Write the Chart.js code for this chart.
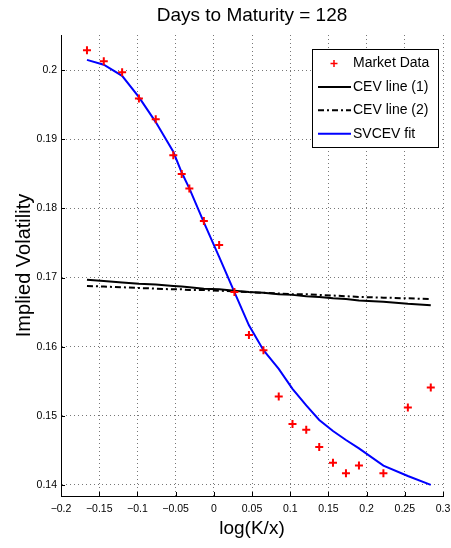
<!DOCTYPE html>
<html>
<head>
<meta charset="utf-8">
<title>Days to Maturity = 128</title>
<script src="https://cdn.jsdelivr.net/npm/chart.js@4.4.1/dist/chart.umd.min.js"></script>
<style>
    html, body { margin: 0; padding: 0; background: #fff; }
    #wrapper { width: 451px; height: 548px; }
</style>
</head>
<body>
<div id="wrapper"><canvas id="canvas1" width="451" height="548"></canvas></div>
<script>
"use strict"

// dati
const logKx = [-0.166, -0.144, -0.120, -0.098, -0.076, -0.053, -0.042, -0.032, -0.013, 0.007, 0.027, 0.046,
    0.065, 0.085, 0.103, 0.121, 0.138, 0.156, 0.173, 0.190, 0.222, 0.254, 0.284];
const marketVol = [0.2029, 0.2013, 0.1997, 0.1959, 0.1929, 0.1877, 0.1850, 0.1829, 0.1782, 0.1747, 0.1679, 0.1617,
    0.1595, 0.1528, 0.1488, 0.1480, 0.1455, 0.1432, 0.1417, 0.1428, 0.1417, 0.1512, 0.1541];
const cevLine1 = [0.1697, 0.1695, 0.1693, 0.1691, 0.1690, 0.1688, 0.1687, 0.1686, 0.1684, 0.1683, 0.1681, 0.1679,
    0.1678, 0.1676, 0.1675, 0.1673, 0.1672, 0.1670, 0.1669, 0.1667, 0.1665, 0.1662, 0.1660];
const cevLine2 = [0.1688, 0.1687, 0.1686, 0.1685, 0.1684, 0.1683, 0.1683, 0.1682, 0.1682, 0.1681, 0.1680, 0.1679,
    0.1678, 0.1677, 0.1676, 0.1676, 0.1675, 0.1674, 0.1673, 0.1672, 0.1671, 0.1670, 0.1669];
const svcevFit = [0.2015, 0.2008, 0.1992, 0.1961, 0.1925, 0.1882, 0.1852, 0.1829, 0.1780, 0.1730, 0.1679, 0.1631,
    0.1595, 0.1568, 0.1539, 0.1515, 0.1494, 0.1478, 0.1465, 0.1453, 0.1428, 0.1413, 0.1400];

const seriesLabels = ["Market Data", "CEV line (1)", "CEV line (2)", "SVCEV fit"];

const xTicks = [-0.2, -0.15, -0.1, -0.05, 0, 0.05, 0.1, 0.15, 0.2, 0.25, 0.3];
const xTickLabels = ["\u22120.2", "\u22120.15", "\u22120.1", "\u22120.05", "0", "0.05", "0.1", "0.15", "0.2", "0.25", "0.3"];
const yTicks = [0.14, 0.15, 0.16, 0.17, 0.18, 0.19, 0.2];
const yTickLabels = ["0.14", "0.15", "0.16", "0.17", "0.18", "0.19", "0.2"];

const FONT = "'Liberation Sans', Arial, Helvetica, sans-serif";

function punti(ys) {
    return logKx.map((x, i) => ({ x: x, y: ys[i] }));
}

// tacche verso l'interno, come in MATLAB
const tacchePlugin = {
    id: "tacche",
    afterDraw(chart) {
        let ctx = chart.ctx;
        let area = chart.chartArea;
        let sx = chart.scales.x;
        let sy = chart.scales.y;
        ctx.save();
        ctx.strokeStyle = "#000";
        ctx.lineWidth = 1;
        ctx.beginPath();
        xTicks.forEach(v => {
            let px = Math.round(sx.getPixelForValue(v)) + 0.5;
            ctx.moveTo(px, area.bottom);
            ctx.lineTo(px, area.bottom - 4);
        });
        yTicks.forEach(v => {
            let py = Math.round(sy.getPixelForValue(v)) + 0.5;
            ctx.moveTo(area.left, py);
            ctx.lineTo(area.left + 4, py);
        });
        ctx.stroke();
        ctx.restore();
    }
};

// legenda disegnata dentro il grafico, in alto a destra
const legendaPlugin = {
    id: "legenda",
    afterDraw(chart) {
        let ctx = chart.ctx;
        let box = { x: 312.5, y: 49.5, w: 126, h: 98 };
        ctx.save();
        ctx.fillStyle = "#fff";
        ctx.fillRect(box.x, box.y, box.w, box.h);
        ctx.strokeStyle = "#000";
        ctx.lineWidth = 1;
        ctx.setLineDash([]);
        ctx.strokeRect(box.x, box.y, box.w, box.h);

        ctx.font = "14px " + FONT;
        ctx.textBaseline = "middle";
        ctx.textAlign = "left";
        chart.data.datasets.forEach((ds, i) => {
            let yy = 63.5 + i * 23.4;
            if (ds.showLine === false) {
                ctx.strokeStyle = ds.borderColor;
                ctx.lineWidth = 1.5;
                ctx.setLineDash([]);
                ctx.beginPath();
                ctx.moveTo(334, yy - 3.5);
                ctx.lineTo(334, yy + 3.5);
                ctx.moveTo(330.5, yy);
                ctx.lineTo(337.5, yy);
                ctx.stroke();
            } else {
                ctx.strokeStyle = ds.borderColor;
                ctx.lineWidth = ds.borderWidth;
                ctx.setLineDash(ds.borderDash || []);
                ctx.beginPath();
                ctx.moveTo(318, yy);
                ctx.lineTo(351, yy);
                ctx.stroke();
            }
            ctx.setLineDash([]);
            ctx.fillStyle = "#000";
            ctx.fillText(ds.label, 353, yy);
        });
        ctx.restore();
    }
};

let chartOptions = {
    type: "scatter",
    data: {
        datasets: [{
            label: seriesLabels[0],
            data: punti(marketVol),
            showLine: false,
            pointStyle: "cross",
            pointRadius: 4,
            pointHoverRadius: 4,
            borderColor: "#ff0000",
            backgroundColor: "#ff0000",
            pointBorderWidth: 2
        }, {
            label: seriesLabels[1],
            data: punti(cevLine1),
            showLine: true,
            borderColor: "#000",
            borderWidth: 2,
            pointRadius: 0,
            fill: false
        }, {
            label: seriesLabels[2],
            data: punti(cevLine2),
            showLine: true,
            borderColor: "#000",
            borderWidth: 2,
            borderDash: [6, 3, 2, 3],
            pointRadius: 0,
            fill: false
        }, {
            label: seriesLabels[3],
            data: punti(svcevFit),
            showLine: true,
            borderColor: "#0000ff",
            borderWidth: 2,
            pointRadius: 0,
            fill: false
        }]
    },
    options: {
        responsive: false,
        animation: false,
        devicePixelRatio: 1,
        layout: { padding: { left: 0, right: 0, top: 0, bottom: 0 } },
        plugins: {
            legend: { display: false },
            tooltip: { enabled: false },
            title: {
                display: true,
                text: "Days to Maturity = 128",
                fullSize: false,
                color: "#000",
                font: { family: FONT, size: 19, weight: "normal" },
                padding: { top: 4.6, bottom: 7.6 }
            }
        },
        scales: {
            x: {
                type: "linear",
                min: -0.2,
                max: 0.3,
                afterBuildTicks: scale => { scale.ticks = xTicks.map(v => ({ value: v })); },
                afterFit: scale => {
                    scale.height = 52;
                    scale.paddingRight = 8;
                },
                ticks: {
                    color: "#000",
                    padding: 7,
                    maxRotation: 0,
                    autoSkip: false,
                    font: { family: FONT, size: 10.5 },
                    callback: (v, i) => xTickLabels[i]
                },
                grid: { color: "#777", lineWidth: 1, drawTicks: false },
                border: { display: true, color: "#000", width: 1, dash: [1, 3] },
                title: {
                    display: true,
                    text: "log(K/x)",
                    color: "#000",
                    font: { family: FONT, size: 19 },
                    padding: { top: 0, bottom: 8 }
                }
            },
            y: {
                type: "linear",
                min: 0.1384,
                max: 0.2051,
                afterBuildTicks: scale => { scale.ticks = yTicks.map(v => ({ value: v })); },
                afterFit: scale => { scale.width = 61; },
                ticks: {
                    color: "#000",
                    padding: 4,
                    autoSkip: false,
                    font: { family: FONT, size: 10.5 },
                    callback: (v, i) => yTickLabels[i]
                },
                grid: { color: "#777", lineWidth: 1, drawTicks: false },
                border: { display: true, color: "#000", width: 1, dash: [1, 3] },
                title: {
                    display: true,
                    text: "Implied Volatility",
                    color: "#000",
                    font: { family: FONT, size: 20 },
                    padding: { top: 12, bottom: 0 }
                }
            }
        }
    },
    plugins: [tacchePlugin, legendaPlugin]
};

let canvas1 = document.getElementById("canvas1");
let chart1 = new Chart(canvas1, chartOptions);
</script>
</body>
</html>
